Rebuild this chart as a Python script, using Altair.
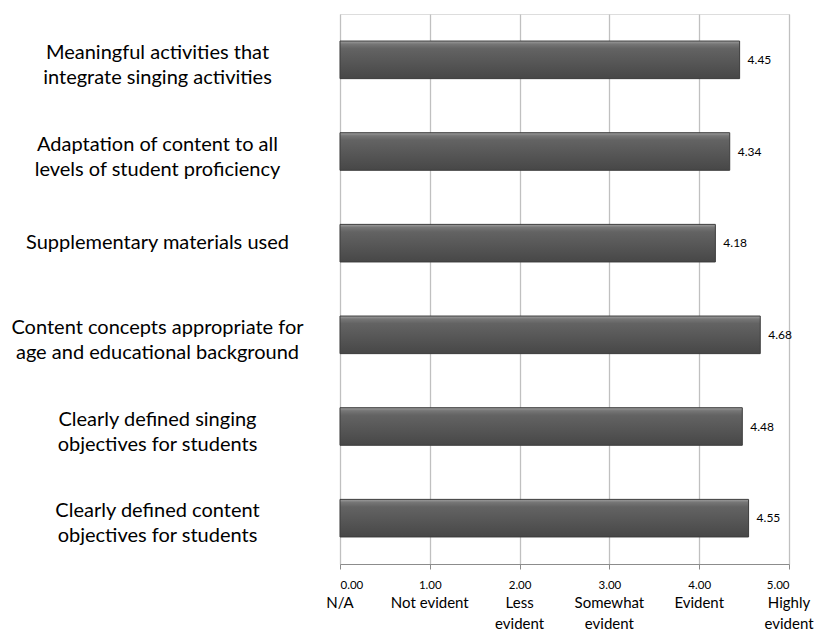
import altair as alt
import pandas as pd

items = [
    "Meaningful activities that|integrate singing activities",
    "Adaptation of content to all|levels of student proficiency",
    "Supplementary materials used",
    "Content concepts appropriate for|age and educational background",
    "Clearly defined singing|objectives for students",
    "Clearly defined content|objectives for students",
]
scores = [4.45, 4.34, 4.18, 4.68, 4.48, 4.55]

scale_values = [0, 1, 2, 3, 4, 5]
scale_names = ["N/A", "Not evident", "Less|evident", "Somewhat|evident", "Evident", "Highly|evident"]

FONT = "Lato"
W, H = 449, 550

df = pd.DataFrame({"item": items, "score": scores})
sdf = pd.DataFrame({"v": scale_values, "name": scale_names})

xscale = alt.Scale(domain=[0, 5], nice=False)

bars = alt.Chart(df).mark_bar(
    color=alt.Gradient(
        gradient="linear", x1=0, y1=0, x2=0, y2=1,
        stops=[
            alt.GradientStop(offset=0, color="#a0a0a0"),
            alt.GradientStop(offset=0.08, color="#767676"),
            alt.GradientStop(offset=0.2, color="#636363"),
            alt.GradientStop(offset=1, color="#474747"),
        ],
    ),
    stroke="#3c3c3c",
    strokeWidth=1,
).encode(
    x=alt.X("score:Q", scale=xscale,
            axis=alt.Axis(values=scale_values, format=".2f", title=None,
                          grid=True, gridColor="#c0c0c0", gridWidth=1.3,
                          domainColor="#8c8c8c", tickColor="#8c8c8c",
                          tickSize=5, labelPadding=10, labelFontSize=11.5,
                          labelFont=FONT, labelColor="#000000")),
    y=alt.Y("item:N", sort=items,
            scale=alt.Scale(paddingInner=0.59, paddingOuter=0.295),
            axis=alt.Axis(title=None, ticks=False, domain=False,
                          labelAlign="center", labelPadding=183,
                          labelOffset={"condition": {"test": "indexof(datum.value, '|') >= 0", "value": -7},
                                       "value": 0},
                          labelLimit=0, labelFontSize=20, labelFont=FONT,
                          labelColor="#000000", labelLineHeight=25,
                          labelExpr="split(datum.label, '|')")),
)

values = alt.Chart(df).mark_text(
    align="left", dx=8, fontSize=12, font=FONT, color="#000000"
).encode(
    x=alt.X("score:Q", scale=xscale),
    y=alt.Y("item:N", sort=items),
    text=alt.Text("score:Q", format=".2f"),
)

names = alt.Chart(sdf).transform_calculate(
    lines="split(datum.name, '|')"
).mark_text(
    baseline="top", align="center", fontSize=15, font=FONT,
    color="#000000", lineHeight=21,
).encode(
    x=alt.X("v:Q", scale=xscale),
    y=alt.value(H + 32),
    text="lines:N",
)

chart = alt.layer(bars, values, names).properties(
    width=W, height=H,
    autosize=alt.AutoSizeParams(type="none"),
    padding={"left": 332, "top": 6, "right": 26, "bottom": 70},
).configure_view(stroke=None).configure(background="#ffffff")

chart.save("out.html", embed_options={"renderer": "svg", "actions": False})
